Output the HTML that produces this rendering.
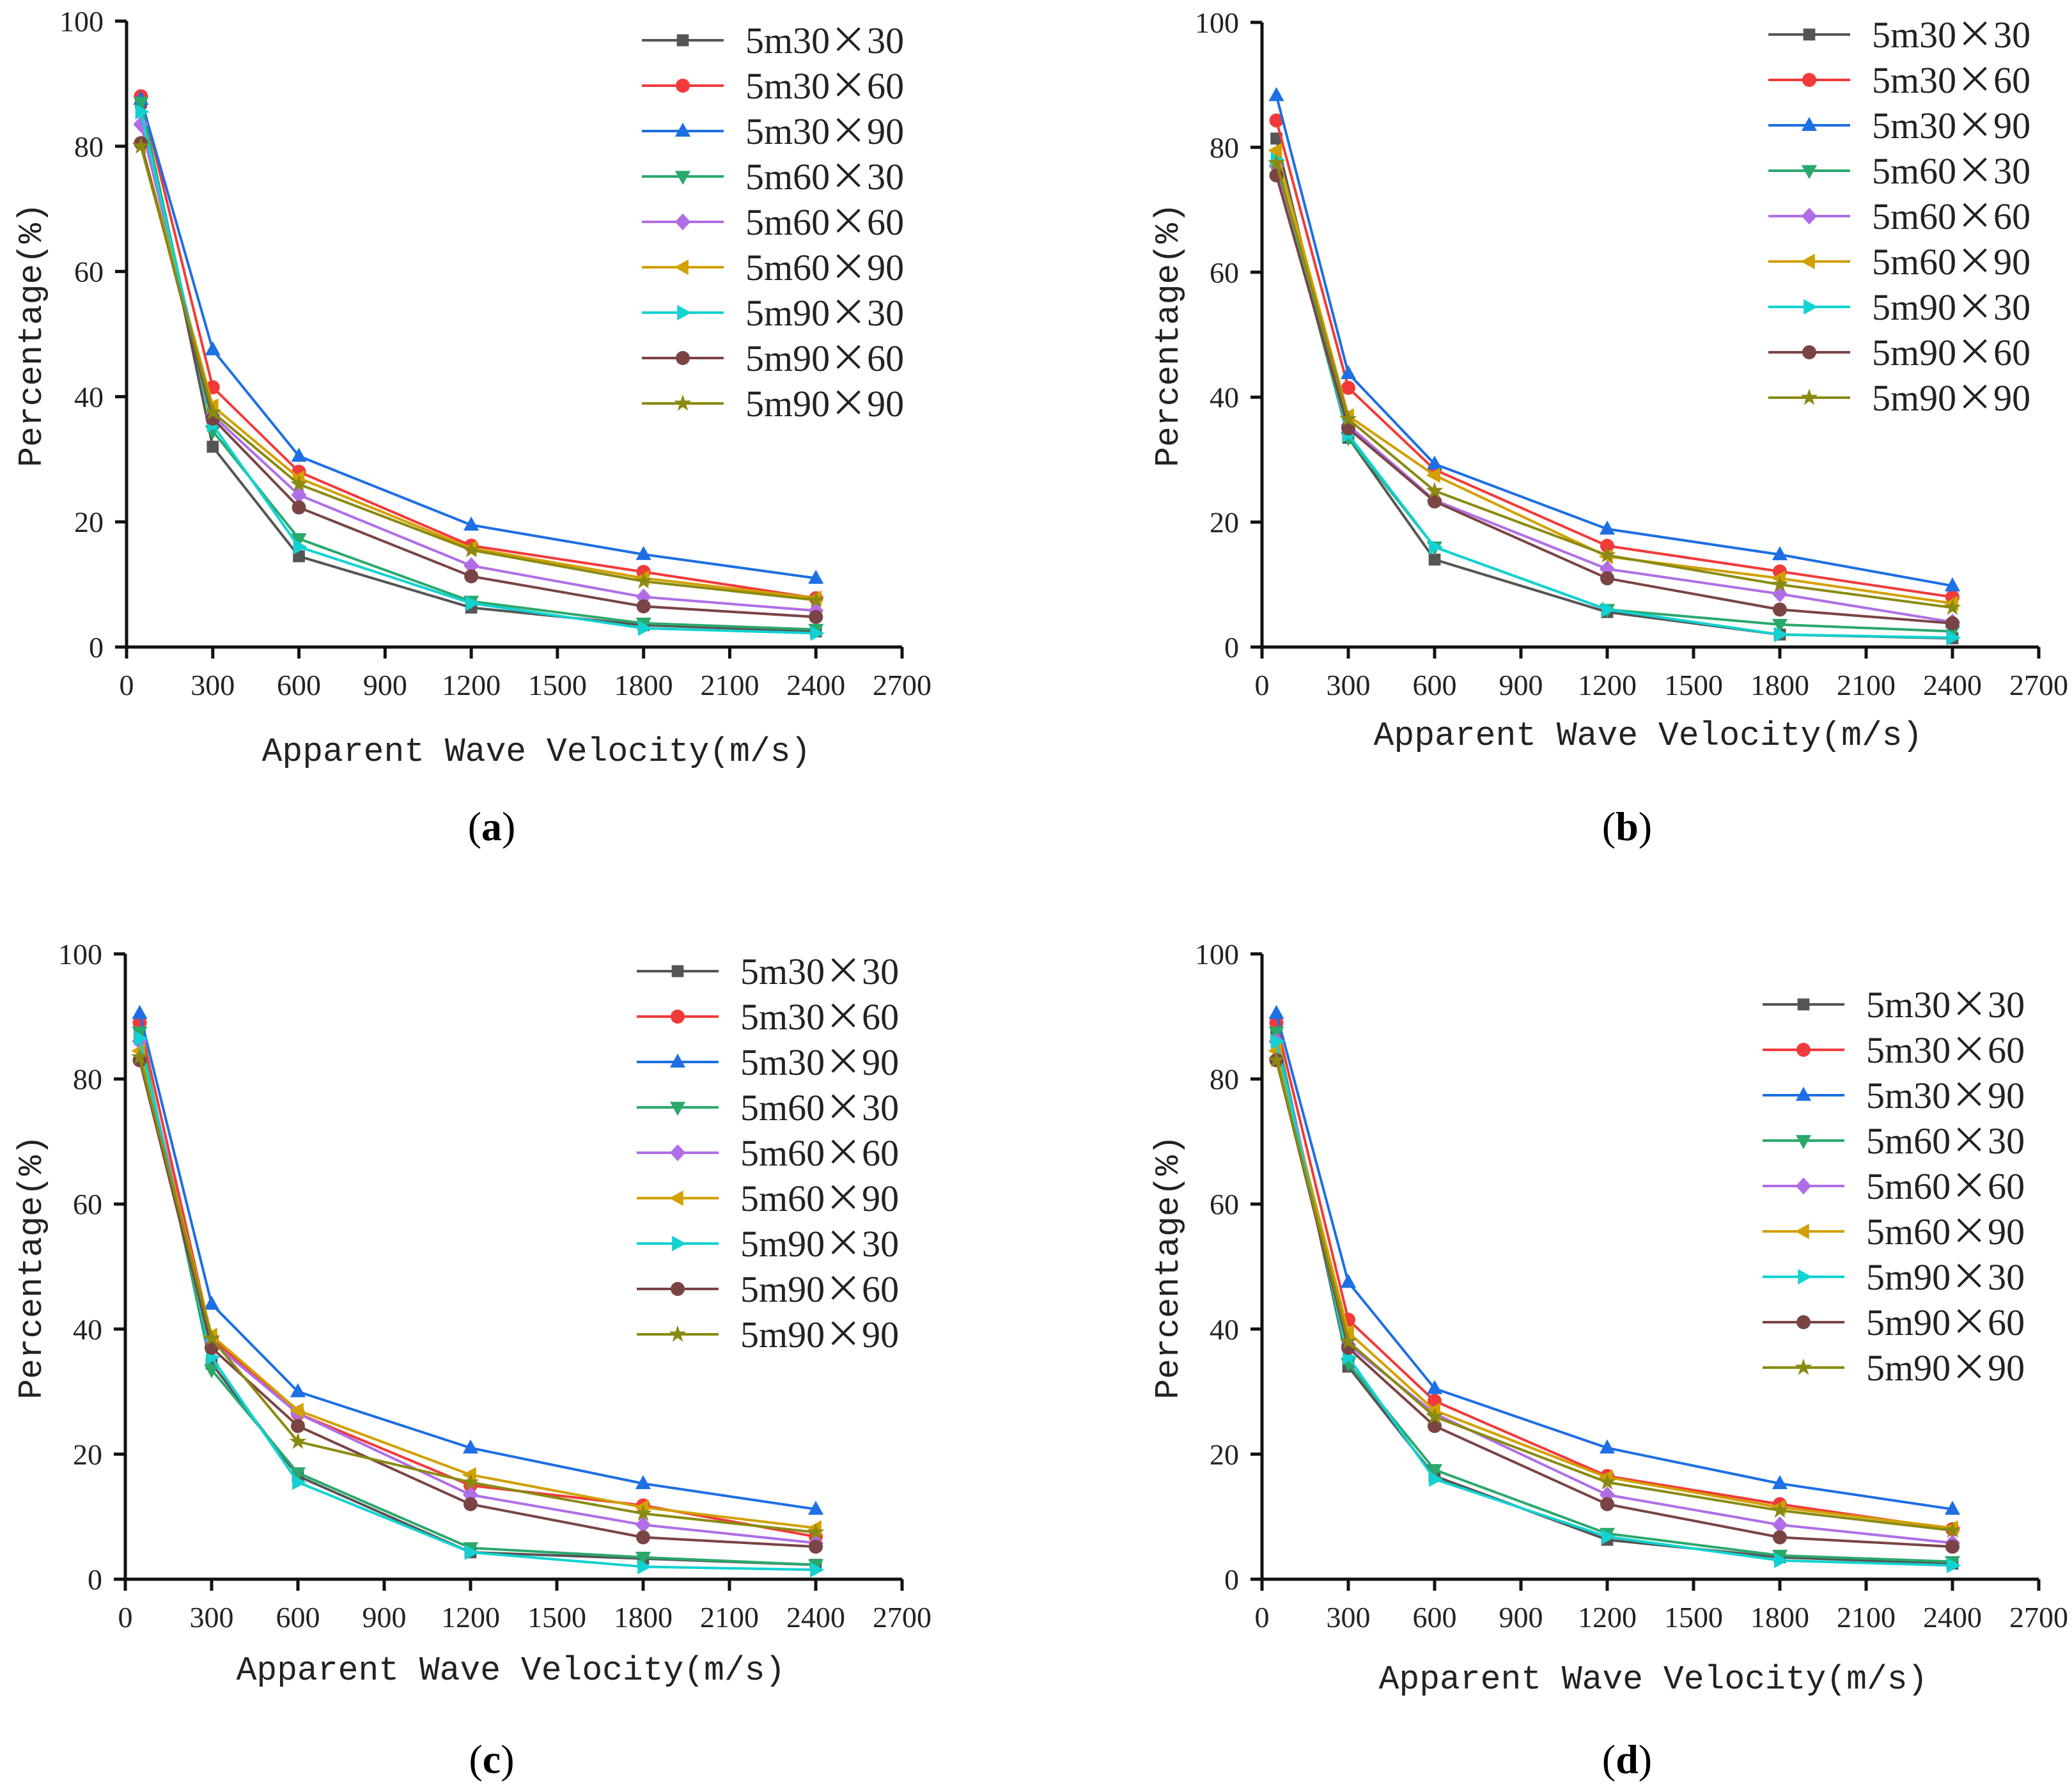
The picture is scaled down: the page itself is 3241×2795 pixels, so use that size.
<!DOCTYPE html>
<html><head><meta charset="utf-8">
<style>
html,body{margin:0;padding:0;background:#fff;}
svg{display:block;}
</style></head>
<body>
<svg id="fig" xmlns="http://www.w3.org/2000/svg" width="3241" height="2795" viewBox="0 0 3241 2795"></svg>
<script>
const xValues = [50, 300, 600, 1200, 1800, 2400];
const xTicks = [0, 300, 600, 900, 1200, 1500, 1800, 2100, 2400, 2700];
const yTicks = [0, 20, 40, 60, 80, 100];
const seriesNames = ["5m30×30","5m30×60","5m30×90","5m60×30","5m60×60","5m60×90","5m90×30","5m90×60","5m90×90"];
const panelA = [
 [87,32,14.5,6.3,3.5,2.5],[88,41.5,28,16.2,12,7.8],[87.5,47.5,30.5,19.5,14.8,11],
 [87,34.5,17.3,7.3,3.8,2.8],[83.5,37,24.3,13,8,5.8],[80.5,38.5,27,15.8,11,7.8],
 [85.5,35.5,16,7,3,2.2],[80.5,36.5,22.3,11.3,6.5,4.8],[80,37.5,26,15.5,10.5,7.5]];
const panelB = [
 [81.4,33.5,14,5.6,2,1.4],[84.3,41.5,28.4,16.2,12.1,8],[88.3,43.8,29.3,18.9,14.8,9.8],
 [77,33.5,16,6,3.6,2.5],[77,35.5,23.5,12.5,8.5,4],[79.5,37,27.5,14.5,11,7],
 [78,34,16,6,2,1.5],[75.5,35,23.3,11,6,3.8],[77.5,36.5,25,14.7,10,6.3]];
const panelC = [
 [87,34.5,16.5,4.3,3.3,2.3],[89,38.5,26.5,15,11.8,6.8],[90.5,44,30,21,15.3,11.2],
 [87.5,33.5,17,5,3.5,2.3],[86,38,26.5,13.5,8.7,5.8],[84.5,39,27,16.7,11.5,8.2],
 [86.5,35.5,15.5,4.3,2,1.5],[83,37,24.5,12,6.7,5.2],[83.5,38.5,22,15.5,10.5,7.5]];
const panelD = [
 [87,34,16.5,6.3,3.5,2.5],[89,41.5,28.5,16.5,12,8],[90.5,47.5,30.5,21,15.3,11.2],
 [87.5,34.5,17.5,7.3,3.8,2.8],[86,37.5,26.5,13.5,8.7,5.8],[84.5,39.5,27,16.3,11.5,8.2],
 [86,35.5,16,6.8,3,2.2],[83,37,24.5,12,6.7,5.2],[83,38,26,15.5,11,7.8]];

const colors = ["#555555","#f23a3a","#1d6fe3","#2ba86c","#b06ee6","#d2a000","#12d2d2","#7a4444","#8a8a12"];
const markers = ["square","circle","tri","tridown","diamond","trileft","triright","circle","star"];
const NS = "http://www.w3.org/2000/svg";
const svg = document.getElementById("fig");
function mk(tag, attrs, parent){const e=document.createElementNS(NS,tag);for(const k in attrs)e.setAttribute(k,attrs[k]);(parent||svg).appendChild(e);return e;}

function marker(g, type, x, y, c){
  const s=11; let e;
  if(type==="square") e=mk("rect",{x:x-s*0.85,y:y-s*0.85,width:s*1.7,height:s*1.7,fill:c},g);
  else if(type==="circle") e=mk("circle",{cx:x,cy:y,r:s,fill:c},g);
  else {
    let pts;
    if(type==="tri") pts=[[0,-1.2],[1.1,0.8],[-1.1,0.8]];
    else if(type==="tridown") pts=[[0,1.2],[1.1,-0.8],[-1.1,-0.8]];
    else if(type==="trileft") pts=[[-1.2,0],[0.8,-1.1],[0.8,1.1]];
    else if(type==="triright") pts=[[1.2,0],[-0.8,-1.1],[-0.8,1.1]];
    else if(type==="diamond") pts=[[0,-1.2],[1.1,0],[0,1.2],[-1.1,0]];
    else { pts=[]; for(let i=0;i<10;i++){const a=-Math.PI/2+i*Math.PI/5;const r=i%2?0.5:1.3;pts.push([r*Math.cos(a),r*Math.sin(a)]);} }
    e=mk("polygon",{points:pts.map(p=>(x+p[0]*s)+","+(y+p[1]*s)).join(" "),fill:c},g);
  }
  
  
}

function panel(cfg){
  const g=mk("g",{});
  
  
  const X=v=>cfg.x0+(v/2700)*(cfg.x1-cfg.x0);
  const Y=v=>cfg.y0-(v/100)*(cfg.y0-cfg.y1);
  // series
  cfg.data.forEach((vals,si)=>{
    const sg=mk("g",{},g);
    
    
    const pl=mk("polyline",{points:vals.map((v,i)=>X(xValues[i])+","+Y(v)).join(" "),fill:"none",stroke:colors[si],"stroke-width":4,"stroke-linejoin":"round"},sg);
    
    
    vals.forEach((v,i)=>marker(sg,markers[si],X(xValues[i]),Y(v),colors[si]));
  });
  // axes
  const ax=mk("path",{d:`M${cfg.x0},${cfg.y1} V${cfg.y0} H${cfg.x1}`,fill:"none",stroke:"#111","stroke-width":5},g);
  
  
  xTicks.forEach(t=>{
    mk("line",{x1:X(t),x2:X(t),y1:cfg.y0,y2:cfg.y0+18,stroke:"#111","stroke-width":5},g);
    const tx=mk("text",{x:X(t),y:cfg.y0+75,"text-anchor":"middle","font-family":"Liberation Serif, serif","font-size":46,fill:"#222"},g);
    tx.textContent=t;
    
    
  });
  yTicks.forEach(t=>{
    mk("line",{x1:cfg.x0-18,x2:cfg.x0,y1:Y(t),y2:Y(t),stroke:"#111","stroke-width":5},g);
    const tx=mk("text",{x:cfg.x0-36,y:Y(t)+16,"text-anchor":"end","font-family":"Liberation Serif, serif","font-size":46,fill:"#222"},g);
    tx.textContent=t;
    
    
  });
  const xt=mk("text",{x:cfg.xtx,y:cfg.xty,"text-anchor":"middle","font-family":"Liberation Mono, monospace","font-size":53,fill:"#222"},g);
  xt.textContent="Apparent Wave Velocity(m/s)";
  
  
  const yt=mk("text",{x:0,y:0,"text-anchor":"middle","font-family":"Liberation Mono, monospace","font-size":53,fill:"#222",transform:`translate(${cfg.ytx},${cfg.yty}) rotate(-90)`},g);
  yt.textContent="Percentage(%)";
  
  
  // legend
  const lg=mk("g",{},g);
  
  
  seriesNames.forEach((n,i)=>{
    const y=cfg.ly+i*71;
    const eg=mk("g",{},lg);
    
    
    mk("line",{x1:cfg.lx,x2:cfg.lx+128,y1:y,y2:y,stroke:colors[i],"stroke-width":4},eg);
    marker(eg,markers[i],cfg.lx+64,y,colors[i]);
    const t=mk("text",{x:cfg.lx+162,y:y+20,"font-family":"Liberation Serif, 'Noto Serif CJK SC', serif","font-size":58,fill:"#222"},eg);
    const parts=n.split("×");
    t.appendChild(document.createTextNode(parts[0]));
    const sp=mk("tspan",{"font-family":"'Noto Sans CJK SC', sans-serif"},t);
    sp.textContent="×";
    t.appendChild(document.createTextNode(parts[1]));
  });
  const cap=mk("text",{x:cfg.cx,y:cfg.cy,"text-anchor":"middle","font-family":"Liberation Serif, serif","font-size":64,fill:"#000"},g);
  cap.innerHTML='(<tspan font-weight="bold">'+cfg.id+'</tspan>)';
  
  
}

panel({id:"a",data:panelA,x0:198,x1:1411,y0:1012,y1:33,xtx:839,xty:1190,ytx:64,yty:524,lx:1004,ly:63,cx:769,cy:1314});
panel({id:"b",data:panelB,x0:1974,x1:3189,y0:1012,y1:35,xtx:2578,xty:1165,ytx:1842,yty:524,lx:2766,ly:54,cx:2545,cy:1314});
panel({id:"c",data:panelC,x0:196,x1:1411,y0:2470,y1:1492,xtx:799,xty:2627,ytx:64,yty:1982,lx:996,ly:1519,cx:769,cy:2773});
panel({id:"d",data:panelD,x0:1974,x1:3189,y0:2470,y1:1492,xtx:2586,xty:2641,ytx:1842,yty:1982,lx:2757,ly:1571,cx:2545,cy:2773});
</script>
</body></html>
